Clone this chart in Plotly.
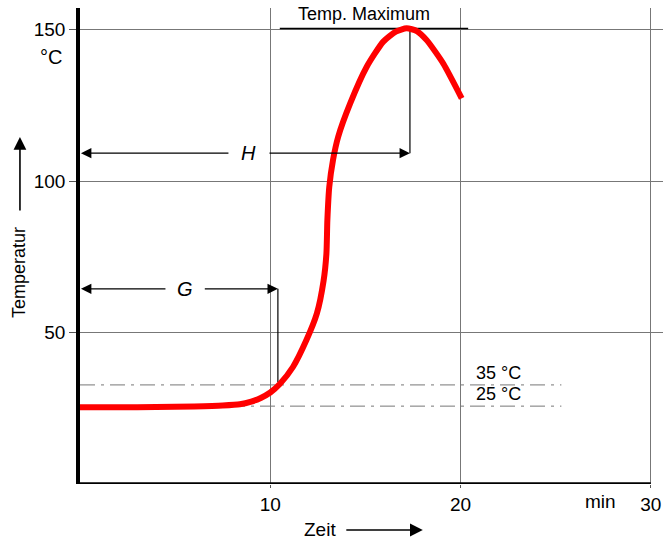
import plotly.graph_objects as go

# Data
time_min = [0, 2, 4, 6, 7.5, 8.4, 9.0, 9.5, 10.0, 10.5, 11.2, 11.9, 12.45, 12.8,
            12.95, 13.0, 13.1, 13.3, 13.57, 14.2, 15.07, 15.94, 16.6, 17.17,
            17.7, 18.22, 19.09, 20.06]
temp_c = [25.3, 25.3, 25.4, 25.6, 25.9, 26.3, 27.2, 28.4, 30.2, 33.0, 38.7, 47.5,
          56.3, 67.0, 76.0, 87.0, 98.0, 107.0, 114.6, 125.6, 137.7, 146.0, 149.3,
          150.4, 149.5, 146.5, 138.8, 127.3]
x_ticks = [10, 20, 30]
y_ticks = [50, 100, 150]
ref_levels = [32.7, 25.7]
ref_labels = ["35 °C", "25 °C"]
t_max = 17.34
g_time = 10.4
h_level = 109.2
g_level = 64.4
max_level = 150.3

FONT = "Liberation Sans"
fig = go.Figure()

# reference dash-dot lines
for lv in ref_levels:
    fig.add_trace(go.Scatter(x=[0, 25.3], y=[lv, lv], mode="lines",
                             line=dict(color="#777777", width=1, dash="longdashdot"),
                             hoverinfo="skip", showlegend=False))

# Temp maximum line
fig.add_trace(go.Scatter(x=[10.5, 20.4], y=[max_level, max_level], mode="lines",
                         line=dict(color="black", width=1.5), showlegend=False))
# vertical at maximum
fig.add_trace(go.Scatter(x=[t_max, t_max], y=[h_level, max_level], mode="lines",
                         line=dict(color="black", width=1.2), showlegend=False))
# vertical at G
fig.add_trace(go.Scatter(x=[g_time, g_time], y=[33.7, g_level], mode="lines",
                         line=dict(color="black", width=1.2), showlegend=False))

# red curve
fig.add_trace(go.Scatter(x=time_min, y=temp_c, mode="lines",
                         line=dict(color="#ff0000", width=6, shape="spline", smoothing=0.6),
                         showlegend=False))

def arrow(x, y, ax, ay, width=1.3, size=1.6):
    fig.add_annotation(x=x, y=y, ax=ax, ay=ay, xref="x", yref="y", axref="x", ayref="y",
                       text="", showarrow=True, arrowhead=2, arrowsize=size,
                       arrowwidth=width, arrowcolor="black", standoff=0, startstandoff=0)

# H arrows
arrow(0.05, h_level, 7.88, h_level)
arrow(t_max, h_level, 9.88, h_level)
# G arrows
arrow(0.05, g_level, 4.57, g_level)
arrow(g_time, g_level, 6.48, g_level)

fig.add_annotation(x=8.88, y=h_level, text="<i>H</i>", showarrow=False,
                   font=dict(family=FONT, size=20, color="black"))
fig.add_annotation(x=5.52, y=g_level, text="<i>G</i>", showarrow=False,
                   font=dict(family=FONT, size=20, color="black"))
fig.add_annotation(x=14.9, y=155.2, text="Temp. Maximum", showarrow=False,
                   font=dict(family=FONT, size=18, color="black"))
for lv, lab in zip(ref_levels, ref_labels):
    fig.add_annotation(x=22.0, y=lv + 3.9, text=lab, showarrow=False,
                       font=dict(family=FONT, size=18, color="black"))

# texts outside the plotting area (paper coordinates)
def ptext(x, y, text, size, angle=0):
    fig.add_annotation(x=x, y=y, xref="paper", yref="paper", text=text,
                       xanchor="center", yanchor="middle", showarrow=False,
                       textangle=angle, font=dict(family=FONT, size=size, color="black"))

ptext(-0.0497, 0.897, "°C", 20)
ptext(0.892, -0.0378, "min", 19)
ptext(-0.105, 0.445, "Temperatur", 18, -90)
ptext(0.412, -0.0966, "Zeit", 19)
fig.add_annotation(x=-0.103, y=0.729, xref="paper", yref="paper", ax=0, ay=75,
                   text="", showarrow=True, arrowhead=2, arrowsize=1.6, arrowwidth=1.6,
                   arrowcolor="black", standoff=0)
fig.add_annotation(x=0.588, y=-0.0966, xref="paper", yref="paper", ax=-78, ay=0,
                   text="", showarrow=True, arrowhead=2, arrowsize=1.6, arrowwidth=1.6,
                   arrowcolor="black", standoff=0)

# x axis line from 0 to 30
fig.add_shape(type="line", x0=0, x1=30, y0=0, y1=0, xref="x", yref="y",
              line=dict(color="black", width=3.5), layer="above")

fig.update_layout(
    width=663, height=540, autosize=False,
    margin=dict(l=80, r=0, t=8, b=56),
    plot_bgcolor="white", paper_bgcolor="white",
    font=dict(family=FONT, size=19, color="black"),
    xaxis=dict(range=[0, 30.64], tickvals=x_ticks, ticktext=[str(v) for v in x_ticks],
               showgrid=True, gridcolor="#777777", gridwidth=1, zeroline=False,
               showline=False, ticks="outside", ticklen=3, tickcolor="#555555",
               tickfont=dict(family=FONT, size=19)),
    yaxis=dict(range=[0, 157.1], tickvals=y_ticks, ticktext=[str(v) for v in y_ticks],
               showgrid=True, gridcolor="#777777", gridwidth=1, zeroline=False,
               showline=True, linecolor="black", linewidth=3.5,
               ticks="outside", ticklen=7, tickcolor="#555555",
               tickfont=dict(family=FONT, size=19)),
)

fig.write_html("out.html", config={"displayModeBar": False},
               post_script="document.body.style.margin='0';document.body.style.overflow='hidden';")
